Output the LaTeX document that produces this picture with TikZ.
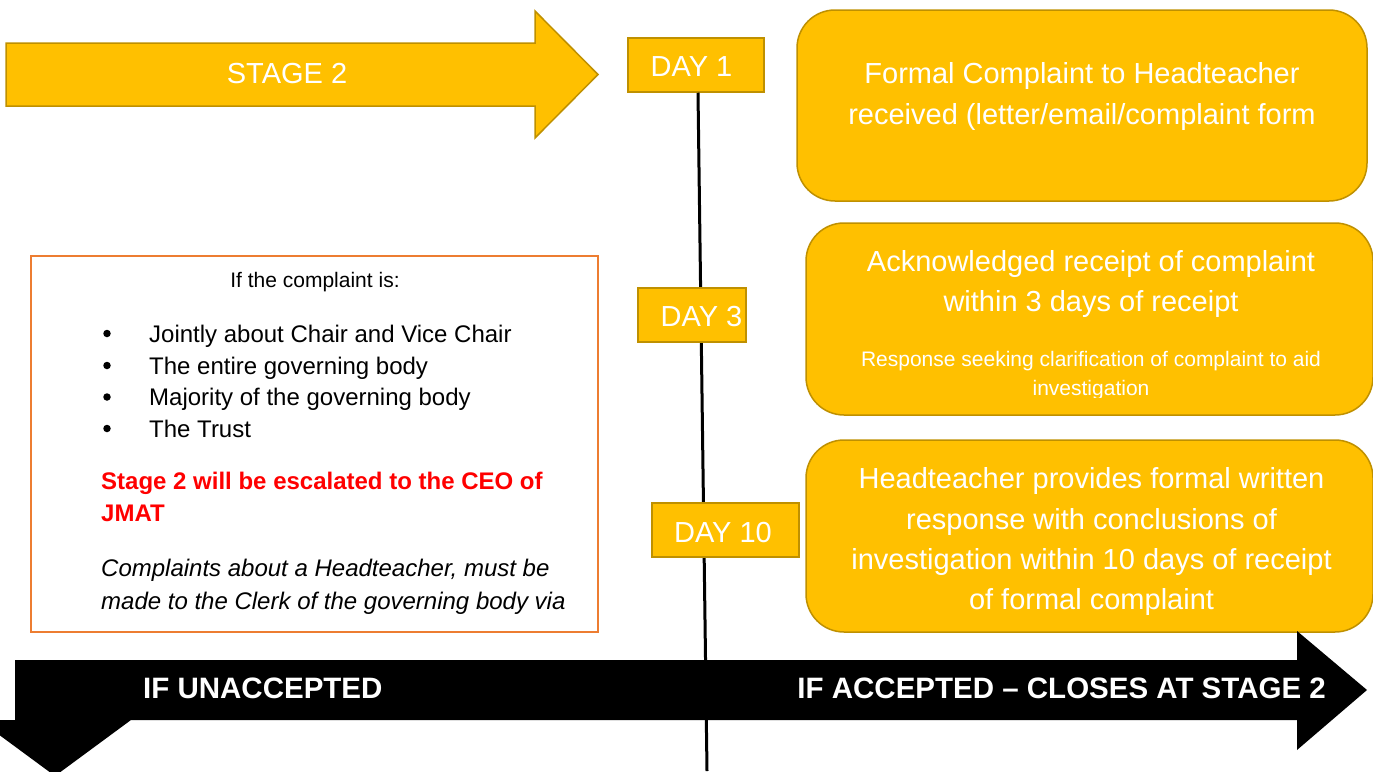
\documentclass[tikz,border=0pt]{standalone}
\usepackage{fontspec}
\setmainfont{Liberation Sans}
\usetikzlibrary{calc}
\definecolor{gold}{HTML}{FFC000}
\definecolor{golddark}{HTML}{BF9000}
\definecolor{orangeb}{HTML}{ED7D31}
\definecolor{redt}{HTML}{FF0000}
\begin{document}
\begin{tikzpicture}[x=1pt,y=-1pt,
  yshape/.style={draw=golddark, fill=gold, line width=1.5pt, line join=miter},
  daybox/.style={draw=golddark, fill=gold, line width=1.5pt, minimum height=54pt, inner sep=0pt},
  ybox/.style={draw=golddark, fill=gold, line width=1.5pt, rounded corners=38pt, inner sep=0pt},
  big/.style={text=white, font=\fontsize{29}{41}\selectfont, inner sep=0pt},
  small/.style={text=white, font=\fontsize{21}{29}\selectfont, inner sep=0pt},
  lefttxt/.style={text=black, font=\fontsize{24}{32}\selectfont, inner sep=0pt},
  bulletdot/.style={circle, fill=black, inner sep=0pt, minimum size=7.5pt},
  bartxt/.style={text=white, font=\fontsize{29.5}{35}\selectfont\bfseries, inner sep=0pt},
  timeline/.style={draw=black, line width=3pt}
]
\useasboundingbox (0,0) rectangle (1373,771);

% Stage 2 arrow
\draw[yshape] (6,43) -- (535,43) -- (535,11) -- (598,74.5) -- (535,138) -- (535,106) -- (6,106) -- cycle;
\node[big, anchor=base] (stage) at (287,83) {STAGE 2};

% Right boxes
\node[ybox, minimum width=570pt, minimum height=191pt] (box1) at (1082,105.5) {};
\node[big, anchor=base] (b1a) at (1082,83) {Formal Complaint to Headteacher};
\node[big, anchor=base] (b1b) at (1082,124) {received (letter/email/complaint form};

\node[ybox, minimum width=567pt, minimum height=192pt] (box2) at (1089.5,319) {};
\node[big, anchor=base] (b2a) at (1091,271.5) {Acknowledged receipt of complaint};
\node[big, anchor=base] (b2b) at (1091,311.5) {within 3 days of receipt};
\begin{scope}
  \clip (806,223) rectangle (1373,397);
  \node[small, anchor=base] (b2c) at (1091,366.5) {Response seeking clarification of complaint to aid};
  \node[small, anchor=base] (b2d) at (1091,395.5) {investigation};
\end{scope}

\node[ybox, minimum width=567pt, minimum height=192pt] (box3) at (1089.5,536) {};
\node[big, anchor=base] (b3a) at (1091.5,488) {Headteacher provides formal written};
\node[big, anchor=base] (b3b) at (1091.5,529) {response with conclusions of};
\node[big, anchor=base] (b3c) at (1091.5,569) {investigation within 10 days of receipt};
\node[big, anchor=base] (b3d) at (1091.5,609) {of formal complaint};

% Day boxes and timeline
\node[daybox, minimum width=136pt] (day1) at (696,65) {};
\coordinate (lineend) at (707,771);
\draw[timeline] ([xshift=2pt]day1.south) -- (lineend);
\node[daybox, minimum width=108pt] (day3) at (692,315) {};
\node[daybox, minimum width=147pt] (day10) at (725.5,530) {};
\node[big, anchor=base] (d1t) at (691.5,76) {DAY 1};
\node[big, anchor=base] (d3t) at (701.5,326) {DAY 3};
\node[big, anchor=base] (d10t) at (723,542) {DAY 10};

% Left box
\node[draw=orangeb, fill=white, line width=2pt, minimum width=567pt, minimum height=376pt, inner sep=0pt] (lbox) at (314.5,444) {};
\node[text=black, font=\fontsize{21}{25}\selectfont, inner sep=0pt, anchor=base] (lhead) at (315,287.5) {If the complaint is:};
\foreach \yy/\txt [count=\i] in {342/Jointly about Chair and Vice Chair, 374/The entire governing body, 405.5/Majority of the governing body, 437/The Trust}{
  \node[bulletdot] (bul\i) at (107,\yy-8.5) {};
  \node[lefttxt, anchor=base west] (item\i) at (149,\yy) {\txt};
}
\node[lefttxt, text=redt, font=\fontsize{24}{32}\selectfont\bfseries, anchor=base west] (red1) at (101,489) {Stage 2 will be escalated to the CEO of};
\node[lefttxt, text=redt, font=\fontsize{24}{32}\selectfont\bfseries, anchor=base west] (red2) at (101,521) {JMAT};
\node[lefttxt, font=\fontsize{24}{32}\selectfont\itshape, anchor=base west] (it1) at (101,576) {Complaints about a Headteacher, must be};
\node[lefttxt, font=\fontsize{24}{32}\selectfont\itshape, anchor=base west] (it2) at (101,609) {made to the Clerk of the governing body via};

% Black bottom arrows
\fill[black] (15,660) -- (1297,660) -- (1297,631) -- (1367,690) -- (1297,750) -- (1297,720)
  -- (131,720) -- (55,776) -- (-21,720) -- (15,720) -- cycle;
\node[bartxt, anchor=base west] (unacc) at (143,698.5) {IF UNACCEPTED};
\node[bartxt, anchor=base east] (acc) at (1326,698.5) {IF ACCEPTED – CLOSES AT STAGE 2};
\end{tikzpicture}
\end{document}
